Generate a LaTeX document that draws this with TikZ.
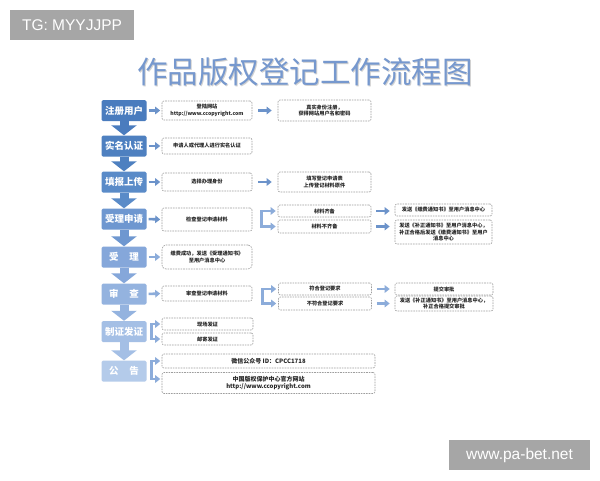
\documentclass[tikz,border=0pt]{standalone}
\usepackage{fontspec}
\newfontfamily\cjk{Noto Sans CJK SC}
\newfontfamily\wmfont{Liberation Sans}
\usetikzlibrary{arrows.meta,calc}
\definecolor{titc}{RGB}{118,152,206}
\definecolor{cA}{RGB}{74,124,190}
\definecolor{cB}{RGB}{78,128,192}
\definecolor{cC}{RGB}{90,139,200}
\definecolor{cD}{RGB}{110,151,208}
\definecolor{cE}{RGB}{133,167,218}
\definecolor{cF}{RGB}{148,179,223}
\definecolor{cG}{RGB}{164,191,229}
\definecolor{cH}{RGB}{180,203,234}
\definecolor{arrc}{RGB}{108,147,202}
\definecolor{arrl}{RGB}{140,172,218}
\definecolor{wmg}{RGB}{166,166,166}
\tikzset{
  lbox/.style={minimum width=45pt, minimum height=21pt, inner sep=0pt, rounded corners=1.5pt,
    font=\cjk\bfseries\fontsize{9.5}{10}\selectfont, text=white},
  dbox/.style={draw=black!38, dash pattern=on 1.6pt off 1pt, line width=0.6pt, rounded corners=2pt,
    fill=white, inner sep=0pt, align=center, text=black!85,
    font=\cjk\bfseries\fontsize{5.2}{6.4}\selectfont},
  rarr/.style={draw=arrc, line width=2.6pt, -{Triangle[length=5pt,width=7.5pt]}},
  barr/.style={draw=arrl, line width=2.6pt, -{Triangle[length=5pt,width=7.5pt]}},
  bbar/.style={draw=arrl, line width=2.6pt, line cap=rect},
  darr/.style={line width=9pt, -{Triangle[length=10pt,width=25pt]}},
  wm/.style={fill=wmg, text=white, inner sep=0pt, font=\wmfont\fontsize{15.5}{16}\selectfont}
}
\begin{document}
\begin{tikzpicture}[x=1pt,y=-1pt]
\fill[white] (0,0) rectangle (600,480);
\useasboundingbox (0,0) rectangle (600,480);

% watermarks
\node[wm, minimum width=124pt, minimum height=30pt] (wm1) at (72,25) {TG: MYYJJPP};
\node[wm, minimum width=141pt, minimum height=30pt] (wm2) at (519.5,455) {www.pa-bet.net};

% title
\node[font=\cjk\fontsize{30.5}{31}\selectfont, text=black!18] (tsh) at (306.2,73.2) {作品版权登记工作流程图};
\node[font=\cjk\fontsize{30.5}{31}\selectfont, text=titc] (title) at (305,72) {作品版权登记工作流程图};

% left column
\node[lbox, fill=cA] (L1) at (124,110.5) {注册用户};
\node[lbox, fill=cB] (L2) at (124,146) {实名认证};
\node[lbox, fill=cC] (L3) at (124,182) {填报上传};
\node[lbox, fill=cD] (L4) at (124,219) {受理申请};
\node[lbox, fill=cE] (L5) at (124,257) {受\hspace{11pt}理};
\node[lbox, fill=cF] (L6) at (124,294) {审\hspace{11pt}查};
\node[lbox, fill=cG] (L7) at (124,331.5) {制证发证};
\node[lbox, fill=cH] (L8) at (124,371) {公\hspace{11pt}告};

% down arrows
\draw[darr, draw=cA, -{Triangle[length=10pt,width=25pt,fill=cA]}] (L1.south) -- (L2.north);
\draw[darr, draw=cB] (L2.south) -- (L3.north);
\draw[darr, draw=cC] (L3.south) -- (L4.north);
\draw[darr, draw=cD] (L4.south) -- (L5.north);
\draw[darr, draw=cE] (L5.south) -- (L6.north);
\draw[darr, draw=cF] (L6.south) -- (L7.north);
\draw[darr, draw=cG] (L7.south) -- (L8.north);

% row 1
\node[dbox, minimum width=90pt, minimum height=19pt] (A1) at (207,110.5) {登陆网站\\http://www.ccopyright.com};
\node[dbox, minimum width=93pt, minimum height=21pt] (B1) at (324.5,110.5) {真实身份注册，\\获得网站用户名和密码};
% row 2
\node[dbox, minimum width=90pt, minimum height=16pt] (A2) at (207,146) {申请人或代理人进行实名认证};
% row 3
\node[dbox, minimum width=90pt, minimum height=18pt] (A3) at (207,182) {选择办理身份};
\node[dbox, minimum width=93pt, minimum height=20pt] (B3) at (324.5,182) {填写登记申请表\\上传登记材料原件};
% row 4
\node[dbox, minimum width=90pt, minimum height=23pt] (A4) at (207,219.5) {检查登记申请材料};
\node[dbox, minimum width=93pt, minimum height=12pt] (B4a) at (324.5,211) {材料齐备};
\node[dbox, minimum width=93pt, minimum height=13pt] (B4b) at (324.5,226.5) {材料不齐备};
\node[dbox, minimum width=97pt, minimum height=12pt] (C4a) at (443.5,210) {发送《缴费通知书》至用户消息中心};
\node[dbox, minimum width=97pt, minimum height=24pt] (C4b) at (443.5,232) {发送《补正通知书》至用户消息中心，\\补正合格后发送《缴费通知书》至用户\\消息中心};
% row 5
\node[dbox, rounded corners=4pt, minimum width=90pt, minimum height=24pt] (A5) at (207,257) {缴费成功，发送《受理通知书》\\至用户消息中心};
% row 6
\node[dbox, minimum width=90pt, minimum height=15pt] (A6) at (207,293.5) {审查登记申请材料};
\node[dbox, minimum width=93pt, minimum height=12pt] (B6a) at (325,289) {符合登记要求};
\node[dbox, minimum width=93pt, minimum height=13pt] (B6b) at (325,303.5) {不符合登记要求};
\node[dbox, minimum width=98pt, minimum height=12pt] (C6a) at (444,289) {提交审批};
\node[dbox, minimum width=98pt, minimum height=15pt] (C6b) at (444,303.5) {发送《补正通知书》至用户消息中心，\\补正合格提交审批};
% row 7
\node[dbox, minimum width=91pt, minimum height=12pt] (A7a) at (207.5,324) {现场发证};
\node[dbox, minimum width=91pt, minimum height=12pt] (A7b) at (207.5,339) {邮寄发证};
% row 8
\node[dbox, minimum width=213pt, minimum height=14pt, font=\cjk\bfseries\fontsize{6}{7.2}\selectfont] (A8a) at (268.5,361) {微信公众号 ID：CPCC1718};
\node[dbox, minimum width=213pt, minimum height=21pt, font=\cjk\bfseries\fontsize{6}{7.4}\selectfont] (A8b) at (268.5,383) {中国版权保护中心官方网站\\http://www.ccopyright.com};

% straight arrows
\draw[rarr, shorten <=2pt, shorten >=1.5pt] (L1.east) -- (A1.west);
\draw[rarr, shorten <=6pt, shorten >=6pt] (A1.east) -- (B1.west);
\draw[rarr, shorten <=2pt, shorten >=1.5pt] (L2.east) -- (A2.west);
\draw[rarr, shorten <=2pt, shorten >=1.5pt] (L3.east) -- (A3.west);
\draw[rarr, shorten <=6pt, shorten >=6pt] (A3.east) -- (B3.west);
\draw[rarr, shorten <=2pt, shorten >=1.5pt] (L4.east) -- (A4.west);
\draw[rarr, shorten <=5pt, shorten >=5pt] (B4a.east) -- (B4a.east -| C4a.west);
\draw[rarr, shorten <=5pt, shorten >=5pt] (B4b.east) -- (B4b.east -| C4b.west);
\draw[barr, shorten <=2pt, shorten >=1.5pt] (L5.east) -- (L5.east -| A5.west);
\draw[barr, shorten <=2pt, shorten >=1.5pt] (L6.east) -- (A6.west);
\draw[barr, shorten <=5pt, shorten >=5pt] (B6a.east) -- (B6a.east -| C6a.west);
\draw[barr, shorten <=5pt, shorten >=5pt] (B6b.east) -- (B6b.east -| C6b.west);

% bracket arrows row 4
\draw[bbar] ($(B4a.west)+(-16,0)$) -- ($(B4b.west)+(-16,0)$);
\draw[barr, shorten >=2pt] ($(B4a.west)+(-16,0)$) -- (B4a.west);
\draw[barr, shorten >=2pt] ($(B4b.west)+(-16,0)$) -- (B4b.west);
% bracket arrows row 6
\draw[bbar] ($(B6a.west)+(-16,0)$) -- ($(B6b.west)+(-16,0)$);
\draw[barr, shorten >=2pt] ($(B6a.west)+(-16,0)$) -- (B6a.west);
\draw[barr, shorten >=2pt] ($(B6b.west)+(-16,0)$) -- (B6b.west);
% bracket arrows row 7
\draw[bbar] ($(A7a.west)+(-10,0)$) -- ($(A7b.west)+(-10,0)$);
\draw[barr, shorten >=1.5pt] ($(A7a.west)+(-10,0)$) -- (A7a.west);
\draw[barr, shorten >=1.5pt] ($(A7b.west)+(-10,0)$) -- (A7b.west);
% bracket arrows row 8
\draw[bbar] ($(A8a.west)+(-10,0)$) -- ($(A8a.west |- A8b.west)+(-10,-4)$);
\draw[barr, shorten >=1.5pt] ($(A8a.west)+(-10,0)$) -- (A8a.west);
\draw[barr, shorten >=1.5pt] ($(A8a.west |- A8b.west)+(-10,-4)$) -- ($(A8b.west)+(0,-4)$);
\end{tikzpicture}
\end{document}
